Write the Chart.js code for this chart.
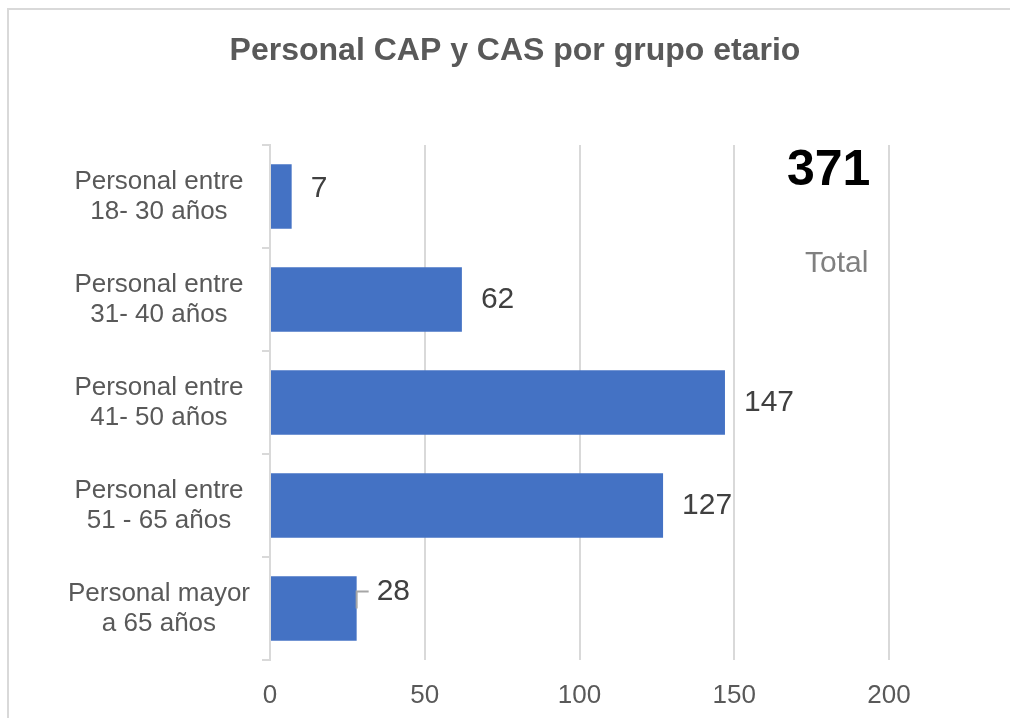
<!DOCTYPE html>
<html>
<head>
<meta charset="utf-8">
<script src="https://cdn.jsdelivr.net/npm/chart.js@4"></script>
<style>
  html, body { margin: 0; padding: 0; background: #fff; overflow: hidden; }
  canvas { display: block; }
</style>
</head>
<body>
<canvas id="barChart" width="1010" height="718"></canvas>
<script>
"use strict"

const categories = [
  ["Personal entre", "18- 30 años"],
  ["Personal entre", "31- 40 años"],
  ["Personal entre", "41- 50 años"],
  ["Personal entre", "51 - 65 años"],
  ["Personal mayor", "a 65 años"]
];
const personal = [7, 62, 147, 127, 28];
const xTicks = [0, 50, 100, 150, 200];
const chartTitle = "Personal CAP y CAS por grupo etario";
const totalLabel = "Total";

const FONT = '"Liberation Sans", Arial, sans-serif';
const GRID = '#d9d9d9';
// some labels are nudged upward; the last one gets a leader line
const labelShift = { 0: -8, 4: -17 };
const leaderFor = { 4: true };

const total = personal.reduce((a, b) => a + b, 0);

const decorations = {
  id: 'decorations',
  beforeDraw(chart) {
    let ctx = chart.ctx;
    ctx.save();
    ctx.fillStyle = '#fff';
    ctx.fillRect(0, 0, chart.width, chart.height);
    ctx.strokeStyle = GRID;
    ctx.lineWidth = 2;
    ctx.beginPath();
    ctx.moveTo(8, chart.height);
    ctx.lineTo(8, 9);
    ctx.lineTo(chart.width, 9);
    ctx.stroke();
    ctx.restore();
  },
  afterDatasetsDraw(chart) {
    let ctx = chart.ctx;
    let area = chart.chartArea;
    let xScale = chart.scales.x;
    let bars = chart.getDatasetMeta(0).data;

    ctx.save();
    // value labels
    ctx.font = '30px ' + FONT;
    ctx.fillStyle = '#404040';
    ctx.textAlign = 'left';
    ctx.textBaseline = 'middle';
    bars.forEach((bar, i) => {
      let x = bar.x + 19;
      let y = bar.y + (labelShift[i] || 0);
      if (leaderFor[i]) {
        ctx.strokeStyle = '#a6a6a6';
        ctx.lineWidth = 2;
        ctx.beginPath();
        ctx.moveTo(bar.x, bar.y);
        ctx.lineTo(bar.x, y);
        ctx.lineTo(bar.x + 12, y);
        ctx.stroke();
        x = bar.x + 20;
      }
      ctx.fillText(personal[i], x, y);
    });

    // title
    ctx.font = 'bold 32px ' + FONT;
    ctx.fillStyle = '#595959';
    ctx.textAlign = 'center';
    ctx.textBaseline = 'alphabetic';
    ctx.fillText(chartTitle, 515, 60);

    // total box
    let right = xScale.getPixelForValue(194);
    ctx.textAlign = 'right';
    ctx.font = 'bold 50px ' + FONT;
    ctx.fillStyle = '#000';
    ctx.fillText(total, right, area.top + 40);
    ctx.font = '30px ' + FONT;
    ctx.fillStyle = '#808080';
    ctx.fillText(totalLabel, right - 2, area.top + 127);
    ctx.restore();
  }
};

new Chart(document.getElementById('barChart'), {
  type: 'bar',
  data: {
    labels: categories,
    datasets: [{
      data: personal,
      backgroundColor: '#4472C4',
      borderWidth: 0,
      barPercentage: 0.625,
      categoryPercentage: 1
    }]
  },
  options: {
    indexAxis: 'y',
    responsive: false,
    animation: false,
    layout: { padding: { top: 145, left: 0, right: 121, bottom: 8 } },
    plugins: {
      legend: { display: false },
      title: { display: false },
      tooltip: { enabled: false }
    },
    scales: {
      x: {
        min: xTicks[0],
        max: xTicks[xTicks.length - 1],
        afterFit(scale) { scale.height = 50; },
        ticks: {
          stepSize: xTicks[1] - xTicks[0],
          color: '#595959',
          font: { family: FONT, size: 26 },
          padding: 20
        },
        grid: { color: GRID, lineWidth: 2, drawTicks: false },
        border: { display: false }
      },
      y: {
        afterFit(scale) { scale.width = 270; },
        ticks: {
          color: '#595959',
          font: { family: FONT, size: 26, lineHeight: 1.15 },
          crossAlign: 'center',
          padding: 12
        },
        grid: { color: GRID, lineWidth: 2, drawOnChartArea: false, tickLength: 8 },
        border: { display: true, color: GRID, width: 2 }
      }
    }
  },
  plugins: [decorations]
});
</script>
</body>
</html>
